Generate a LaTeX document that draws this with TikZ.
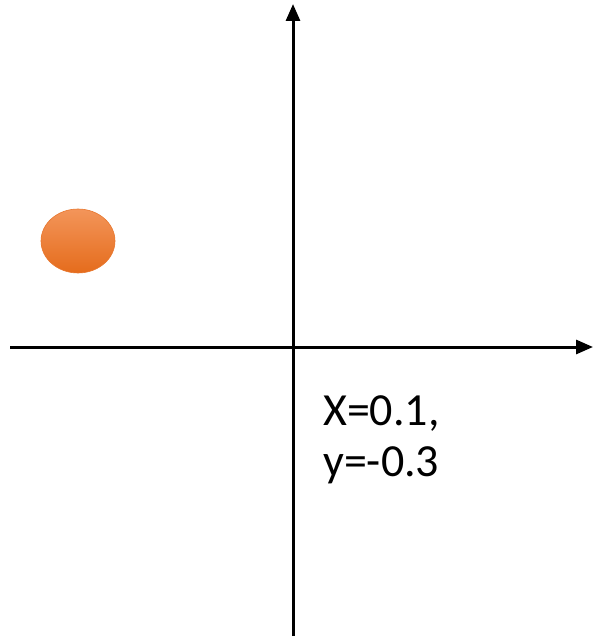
\documentclass[tikz,border=0pt]{standalone}
\usepackage{fontspec}
\setmainfont{Carlito}
\usetikzlibrary{arrows.meta}
\definecolor{orangetop}{HTML}{F3955A}
\definecolor{orangebot}{HTML}{E56C1C}
\definecolor{orangeedge}{HTML}{E8772E}
\begin{document}
\begin{tikzpicture}[x=1pt,y=-1pt,
  axis/.style={line width=3pt,-{Triangle[length=17pt,width=14pt]}},
  lbl/.style={anchor=base west,inner sep=0pt,font=\fontsize{46}{56}\selectfont}]
\useasboundingbox (0,0) rectangle (593,639);
\coordinate (ystart) at (293,636);
\coordinate (yend) at (293,4);
\coordinate (xstart) at (10,347);
\coordinate (xend) at (593,347);
\draw[axis] (ystart) -- (yend);
\draw[axis] (xstart) -- (xend);
\shade[top color=orangetop,bottom color=orangebot,draw=orangeedge,line width=0.6pt] (78,241) ellipse [x radius=37, y radius=32];
\node[lbl] (l1) at (323,425) {X=0.1,};
\node[lbl] (l2) at (323,476) {y=-0.3};
\end{tikzpicture}
\end{document}
